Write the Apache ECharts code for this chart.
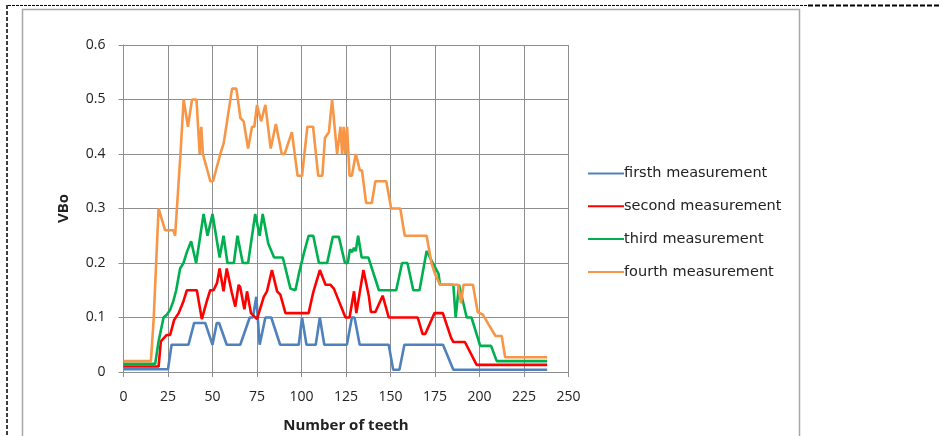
<!DOCTYPE html>
<html>
<head>
<meta charset="utf-8">
<script src="https://cdn.jsdelivr.net/npm/echarts@6/dist/echarts.min.js"></script>
<style>
html,body{margin:0;padding:0;background:#fff;}
#c{width:941px;height:436px;}
</style>
</head>
<body>
<div id="c"></div>
<script>
var seriesNames = ['firsth measurement', 'second measurement', 'third measurement', 'fourth measurement'];
var xTicks = [0, 25, 50, 75, 100, 125, 150, 175, 200, 225, 250];
var yTicks = [0, 0.1, 0.2, 0.3, 0.4, 0.5, 0.6];

var firsth = [[0,0.005],[25,0.005],[27,0.05],[36.5,0.05],[39.7,0.09],[45.9,0.09],[50,0.05],[52.4,0.09],[53.7,0.09],[58,0.05],[65.6,0.05],[70.9,0.1],[72.7,0.1],[74.6,0.138],[76.5,0.05],[79.7,0.1],[83,0.1],[88,0.05],[98.5,0.05],[100.3,0.1],[102.8,0.05],[108,0.05],[110.3,0.1],[112.8,0.05],[125.5,0.05],[128.3,0.1],[129.8,0.1],[132.7,0.05],[149,0.05],[151.5,0.004],[155,0.004],[157.8,0.05],[179.5,0.05],[185.3,0.004],[238,0.004]];

var second = [[0,0.01],[19.7,0.01],[21,0.056],[24.3,0.068],[26.2,0.068],[28.5,0.096],[31,0.108],[33.7,0.13],[35.6,0.15],[41.2,0.15],[44,0.097],[46.8,0.13],[48.7,0.15],[50.6,0.15],[52.5,0.163],[54,0.19],[56.2,0.148],[58,0.19],[60.9,0.145],[62.8,0.12],[64.7,0.16],[65.6,0.155],[67.9,0.115],[69.4,0.148],[71.6,0.108],[75,0.097],[76,0.097],[78.8,0.138],[80.6,0.148],[83.4,0.187],[86.3,0.148],[88.1,0.142],[91,0.108],[104,0.108],[106.5,0.145],[110.3,0.187],[113.5,0.16],[116.3,0.16],[118.2,0.153],[124.7,0.1],[127,0.1],[129.5,0.148],[130.8,0.108],[134.8,0.187],[137.8,0.14],[139,0.11],[141.5,0.11],[145.6,0.14],[149,0.1],[165.3,0.1],[168,0.07],[169.6,0.07],[174.7,0.108],[179.4,0.108],[184,0.063],[185.3,0.055],[191.8,0.055],[198.4,0.013],[238,0.013]];

var third = [[0,0.015],[17.8,0.015],[19.7,0.056],[22.5,0.1],[24.3,0.105],[26.2,0.114],[28,0.13],[29.6,0.15],[31.8,0.19],[33.7,0.2],[35.6,0.22],[38,0.24],[40.8,0.2],[45,0.29],[47.2,0.25],[50,0.29],[54,0.21],[56.2,0.25],[58.4,0.2],[62,0.2],[64,0.25],[67,0.2],[70,0.2],[74,0.29],[76.5,0.25],[78.2,0.29],[81.3,0.236],[84.6,0.21],[89.5,0.21],[93.8,0.153],[96.6,0.15],[98.5,0.18],[101.5,0.22],[104,0.25],[106.6,0.25],[109.8,0.2],[114.4,0.2],[117.6,0.248],[121,0.248],[124.4,0.2],[126,0.2],[127.2,0.225],[128.5,0.22],[129.5,0.228],[130.5,0.222],[131.8,0.25],[133.8,0.21],[137.6,0.21],[143.5,0.15],[153.2,0.15],[156.5,0.2],[159.5,0.2],[162.8,0.15],[166.3,0.15],[170.3,0.222],[173.8,0.2],[177,0.18],[177.8,0.16],[185.3,0.16],[186.6,0.1],[188.5,0.16],[192.8,0.1],[195.5,0.1],[200.4,0.048],[206.5,0.048],[209.7,0.02],[238,0.02]];

var fourth = [[0,0.02],[15.4,0.02],[17,0.1],[19.7,0.3],[23.4,0.26],[28,0.26],[29,0.25],[32,0.4],[33.8,0.5],[36.2,0.45],[38.5,0.5],[41,0.5],[42.8,0.4],[43.7,0.45],[44.6,0.4],[48.8,0.35],[50.3,0.35],[54.4,0.4],[56.3,0.42],[61,0.52],[63.4,0.52],[65.7,0.466],[67.5,0.46],[70,0.41],[72.2,0.45],[73.5,0.45],[75,0.49],[77.3,0.46],[79.7,0.49],[82.7,0.41],[85.6,0.455],[88.9,0.4],[90.5,0.4],[94.6,0.44],[97.8,0.36],[100.3,0.36],[103.3,0.45],[106.5,0.45],[109.4,0.36],[111.7,0.36],[113.2,0.43],[115.4,0.44],[117.2,0.5],[120,0.4],[121.9,0.45],[122.8,0.4],[123.7,0.45],[124.6,0.4],[125.6,0.45],[127,0.36],[128.3,0.36],[130.5,0.4],[132.8,0.37],[134,0.37],[136.3,0.31],[139.5,0.31],[141.5,0.35],[147.6,0.35],[150.4,0.3],[155.5,0.3],[158,0.25],[170.3,0.25],[173,0.2],[175,0.18],[177.8,0.16],[188,0.16],[189.6,0.126],[191,0.16],[196.3,0.16],[199,0.11],[202,0.105],[205,0.088],[209,0.066],[212.5,0.066],[214.4,0.027],[238,0.027]];

var seriesData = [firsth, second, third, fourth];
var colors = ['#4F81BD', '#FF0000', '#00B050', '#F79646'];

var chart = echarts.init(document.getElementById('c'), null, {renderer: 'canvas'});
var gridColor = '#8e8e8e';
var labelFont = 'Open Sans';

chart.setOption({
  animation: false,
  backgroundColor: '#fff',
  color: colors,
  grid: {left: 123.5, right: 372.5, top: 45, bottom: 64, containLabel: false, outerBoundsMode: 'none'},
  legend: {
    orient: 'vertical',
    left: 583,
    top: 161,
    itemWidth: 36,
    itemHeight: 14,
    itemGap: 17.8,
    icon: 'path://M0,6 L36,6 L36,8 L0,8 Z',
    data: seriesNames,
    textStyle: {fontFamily: 'DejaVu Sans', fontSize: 14.5, color: '#222', padding: [0,0,0,-5]}
  },
  xAxis: {
    type: 'value', min: xTicks[0], max: xTicks[xTicks.length-1], interval: 25,
    name: 'Number of teeth', nameLocation: 'middle', nameGap: 46,
    nameTextStyle: {fontFamily: labelFont, fontWeight: 'bold', fontSize: 15, color: '#222'},
    axisLine: {show: true, lineStyle: {color: gridColor, width: 1}},
    axisTick: {show: true, length: 5, lineStyle: {color: gridColor}},
    axisLabel: {fontFamily: labelFont, fontSize: 14, color: '#222', margin: 18},
    splitLine: {show: true, lineStyle: {color: gridColor, width: 1}}
  },
  yAxis: {
    type: 'value', min: yTicks[0], max: yTicks[yTicks.length-1], interval: 0.1,
    name: 'VBo', nameLocation: 'middle', nameGap: 52,
    nameTextStyle: {fontFamily: labelFont, fontWeight: 'bold', fontSize: 15, color: '#222'},
    axisLine: {show: true, lineStyle: {color: gridColor, width: 1}},
    axisTick: {show: true, length: 5, lineStyle: {color: gridColor}},
    axisLabel: {fontFamily: labelFont, fontSize: 14, color: '#222', margin: 18,
      formatter: function(v){ return v === 0 ? '0' : v.toFixed(1); }},
    splitLine: {show: true, lineStyle: {color: gridColor, width: 1}}
  },
  series: seriesNames.map(function(n, i){
    return {
      name: n, type: 'line', data: seriesData[i], symbol: 'none', smooth: false,
      lineStyle: {width: 2.6, color: colors[i]}, itemStyle: {color: colors[i]}, z: 2 + i
    };
  }),
  graphic: [
    {type: 'line', shape: {x1: 7, y1: 5, x2: 7, y2: 436}, style: {stroke: '#000', lineWidth: 1.5, lineDash: [4, 2]}, silent: true},
    {type: 'line', shape: {x1: 8, y1: 5.5, x2: 808, y2: 5.5}, style: {stroke: '#000', lineWidth: 1, lineDash: [3, 1]}, silent: true},
    {type: 'line', shape: {x1: 808, y1: 5.5, x2: 941, y2: 5.5}, style: {stroke: '#000', lineWidth: 2, lineDash: [5, 2]}, silent: true},
    {type: 'rect', shape: {x: 22.5, y: 9.5, width: 777, height: 440}, style: {fill: 'none', stroke: '#a8a8a8', lineWidth: 1.5}, silent: true}
  ]
});
</script>
</body>
</html>
